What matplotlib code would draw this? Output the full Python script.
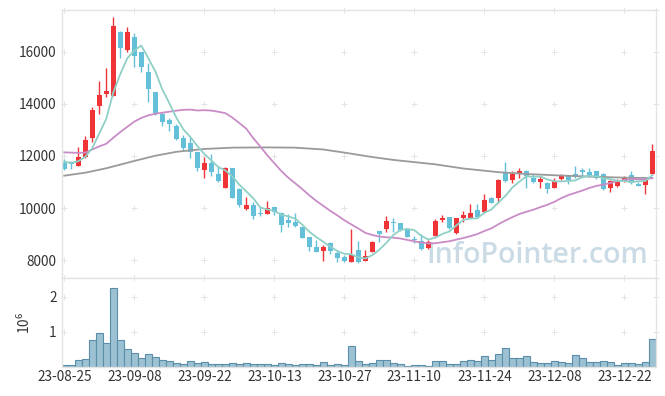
import matplotlib

matplotlib.use("Agg")
import matplotlib.pyplot as plt
import numpy as np
import pandas as pd

# --- data (daily bars, 23-08-25 .. 23-12 end) ---
opens = [11740, 11730, 11630, 11950, 12680, 13930, 14380, 14310, 16770, 16070,
         16580, 16000, 15210, 14440, 13600, 13380, 13150, 12700, 12490, 12140,
         11480, 11720, 11310, 10790, 11530, 10730, 9960, 10120, 9830, 9780,
         10030, 9800, 9550, 9470, 9290, 8880, 8520, 8360, 8650, 8270,
         8140, 7930, 8400, 7990, 8330, 9120, 9200, 9450, 9420, 9160,
         8820, 8750, 8460, 8940, 9560, 9660, 9040, 9640, 9630, 9930,
         9840, 10400, 10380, 11370, 11080, 11300, 11420, 11170, 10990, 10950,
         10790, 11120, 11230, 11300, 11460, 11370, 11420, 11300, 10780, 10860,
         11040, 11270, 10930, 10890, 11300]
highs = [11880, 11810, 12360, 12780, 13890, 14880, 15360, 17320, 16780, 16960,
         16700, 16000, 15560, 14460, 13700, 13450, 13220, 12800, 12740, 12150,
         11950, 12060, 11630, 11590, 11550, 10760, 10420, 10220, 10060, 10270,
         10060, 9840, 9760, 9800, 9290, 8880, 8780, 8590, 8690, 8360,
         8200, 9200, 8750, 8400, 8740, 9130, 9710, 9610, 9440, 9190,
         8930, 9000, 8780, 9580, 9740, 9660, 9640, 9890, 10150, 10150,
         10530, 10410, 11100, 11760, 11420, 11530, 11480, 11300, 11250, 11010,
         11150, 11300, 11270, 11630, 11550, 11530, 11430, 11330, 11080, 11120,
         11250, 11420, 11010, 11140, 12450]
lows = [11460, 11500, 11620, 11910, 12550, 13600, 14250, 14300, 15770, 15980,
        15400, 15230, 14060, 13570, 13160, 12960, 12610, 12230, 11910, 11420,
        11150, 11250, 10990, 10780, 10380, 10060, 9930, 9580, 9710, 9770,
        9740, 9100, 9290, 9290, 8840, 8360, 8300, 7970, 8240, 7920,
        7920, 7920, 7890, 7980, 8320, 8710, 9100, 9070, 9120, 8880,
        8650, 8400, 8450, 8920, 9480, 9200, 9000, 9460, 9610, 9610,
        9800, 10190, 10190, 11010, 10980, 11170, 10780, 10950, 10780, 10570,
        10760, 11080, 10910, 11170, 11170, 11210, 11120, 10700, 10610, 10820,
        11010, 10910, 10860, 10530, 11270]
closes = [11500, 11700, 11950, 12600, 13760, 14340, 14490, 16990, 16150, 16770,
          15850, 15420, 14570, 13640, 13290, 13220, 12650, 12320, 12170, 11550,
          11720, 11400, 11040, 11530, 10400, 10120, 10120, 9710, 9780, 10020,
          9860, 9350, 9420, 9320, 8870, 8520, 8310, 8520, 8370, 8080,
          7970, 8200, 7920, 8180, 8710, 9010, 9510, 9420, 9160, 8910,
          8770, 8430, 8710, 9510, 9630, 9230, 9610, 9740, 9800, 9670,
          10310, 10210, 11080, 11050, 11300, 11420, 11250, 10990, 11120, 10730,
          11040, 11250, 11080, 11210, 11400, 11250, 11140, 10730, 11040, 11080,
          11210, 10950, 10860, 11120, 12190]
volumes = [65000, 65000, 200000, 230000, 760000, 980000, 700000, 2250000, 770000, 530000,
           400000, 260000, 370000, 290000, 200000, 175000, 110000, 83000, 175000, 110000,
           150000, 83000, 83000, 83000, 110000, 83000, 110000, 83000, 83000, 83000,
           55000, 110000, 83000, 55000, 83000, 83000, 55000, 140000, 55000, 83000,
           55000, 610000, 165000, 83000, 110000, 200000, 200000, 110000, 83000, 28000,
           55000, 55000, 28000, 165000, 165000, 83000, 83000, 165000, 220000, 165000,
           330000, 220000, 390000, 550000, 250000, 250000, 330000, 140000, 110000, 110000,
           165000, 140000, 110000, 360000, 250000, 140000, 140000, 165000, 140000, 55000,
           110000, 110000, 83000, 140000, 800000]

# moving-average values before a full window exists (earlier history not in this range)
ma5_head = [11780, 11740, 11800, 11970]
ma20_head = [12140, 12130, 12120, 12130, 12250, 12370, 12470, 12700, 12920, 13120,
             13320, 13460, 13560, 13620, 13660, 13700, 13740, 13770, 13780]
# long moving average (gray)
long_ma_idx = [0, 3, 6, 10, 13, 16, 20, 24, 29, 33, 37, 40, 44, 47, 53, 57, 62, 66, 71, 76, 80, 84]
long_ma = [11245, 11360, 11530, 11810, 12010, 12160, 12270, 12320, 12330, 12320, 12250,
           12130, 11960, 11850, 11680, 11520, 11380, 11310, 11250, 11200, 11170, 11150]

tick_idx = [0, 10, 20, 30, 40, 50, 60, 70, 80]
tick_labels = ["23-08-25", "23-09-08", "23-09-22", "23-10-13", "23-10-27",
               "23-11-10", "23-11-24", "23-12-08", "23-12-22"]
price_ticks = [8000, 10000, 12000, 14000, 16000]
vol_ticks = [1, 2]

UP, DOWN = "#ef3337", "#64bfd9"
plt.rcParams["font.family"] = ["Noto Sans CJK KR", "DejaVu Sans"]


def _plus_grid(ax, xs, ys):
    gx, gy = np.meshgrid(xs, ys)
    ax.scatter(gx.ravel(), gy.ravel(), marker="+", s=14, linewidths=0.7,
               color="#e4e4e4", zorder=0.5, clip_on=False)


def _style(ax):
    for sp in ax.spines.values():
        sp.set_color("#e3e3e3")
        sp.set_linewidth(1.0)
    ax.tick_params(length=0, colors="#333333", labelsize=9.8)


def main() -> None:
    o, h, l, c = map(np.asarray, (opens, highs, lows, closes))
    x = np.arange(len(c))
    close_s = pd.Series(c, dtype=float)

    ma5 = close_s.rolling(5).mean().to_numpy()
    ma5[:len(ma5_head)] = ma5_head
    ma20 = close_s.rolling(20).mean().to_numpy()
    ma20[:len(ma20_head)] = ma20_head

    fig = plt.figure(figsize=(6.65, 3.96), dpi=100)
    ax1 = fig.add_axes([0.0928, 0.298, 0.8937, 0.6767])
    ax2 = fig.add_axes([0.0928, 0.0725, 0.8937, 0.2255], sharex=ax1)
    xlim = (-0.37, 84.53)

    # candles
    up = c >= o
    colors = np.where(up, UP, DOWN)
    ax1.vlines(x, l, h, colors=colors, linewidth=1.0, zorder=2)
    body_lo = np.minimum(o, c)
    body_h = np.maximum(np.abs(c - o), 25)
    ax1.bar(x, body_h, bottom=body_lo, width=0.72, color=colors, linewidth=0, zorder=2)

    ax1.plot(long_ma_idx, long_ma, color="#9a9a9a", lw=1.3, zorder=3)
    ax1.plot(x, ma20, color="#c98cc6", lw=1.3, zorder=3)
    ax1.plot(x, ma5, color="#8fd0c6", lw=1.3, zorder=3)

    ax1.text(0.9865, 0.03, "InfoPointer.com", transform=ax1.transAxes,
             ha="right", va="bottom", fontsize=20.5, fontweight="semibold",
             color="#cadbe6", family=["Open Sans", "DejaVu Sans"], zorder=1)

    ax1.set_xlim(*xlim)
    ax1.set_ylim(7320, 17600)
    ax1.set_yticks(price_ticks)
    ax1.set_yticklabels([str(v) for v in price_ticks])
    plt.setp(ax1.get_xticklabels(), visible=False)
    _plus_grid(ax1, tick_idx + [xlim[1]], price_ticks + [7320, 17600])
    _style(ax1)

    # volume
    vol = np.asarray(volumes) / 1e6
    ax2.bar(x, vol, width=1.0, color="#9cc1d2", edgecolor="#5a8ea9", linewidth=0.8, zorder=2)
    ax2.set_ylim(0, 2.53)
    ax2.set_yticks(vol_ticks)
    ax2.set_yticklabels([str(v) for v in vol_ticks])
    ax2.set_xticks(tick_idx)
    ax2.set_xticklabels(tick_labels, fontsize=10.3)
    ax2.set_ylabel(r"$\mathregular{10^6}$", fontsize=9.8, color="#333333", labelpad=12)
    _plus_grid(ax2, tick_idx + [xlim[1]], vol_ticks + [2.53])
    _style(ax2)
    ax2.tick_params(axis="x", pad=2)

    fig.savefig("out.png", dpi=100, facecolor="white")
    plt.close(fig)


if __name__ == "__main__":
    main()
